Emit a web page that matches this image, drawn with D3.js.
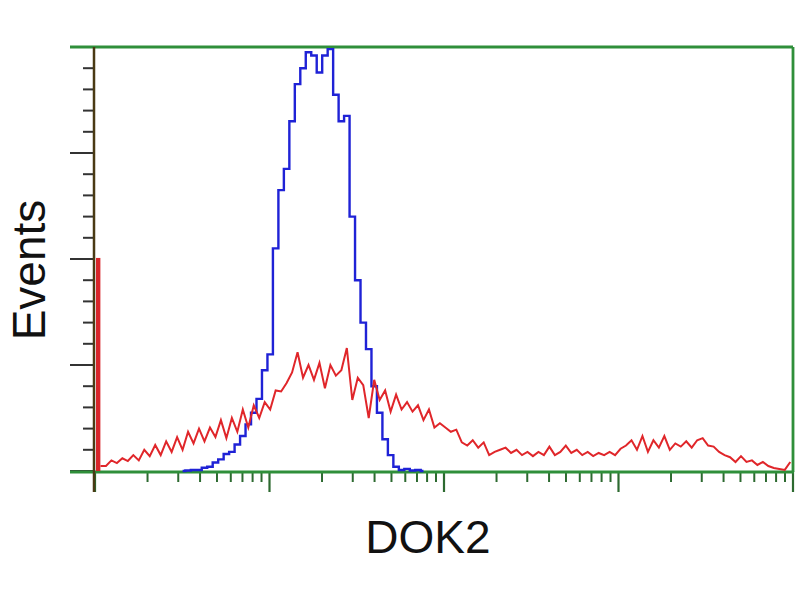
<!DOCTYPE html>
<html>
<head>
<meta charset="utf-8">
<script src="https://cdn.jsdelivr.net/npm/d3@7"></script>
<style>
  body { margin: 0; background: #fff; }
  svg { display: block; }
</style>
</head>
<body>
<div id="chart"></div>
<script>
// histogram data: counts every 2 channels (256 channels over 4 log decades)
const channelStep = 2;
const redFirstBin = 201;
const redCounts = [
  201, 4.7, 4.7, 10, 7.5, 12, 9.4, 15, 10, 20, 14, 24.5, 15, 28, 18, 32,
  20, 37, 26, 40, 28, 41, 32, 48, 31, 50, 37, 58, 41, 62, 50, 65,
  58, 76, 75, 83, 93, 112, 88, 100, 86, 102, 78, 100, 90, 95, 116, 67,
  88, 81, 50, 86, 67, 76, 56, 72, 58, 65, 56, 62, 48, 58, 41, 45,
  41, 37, 39, 27, 24, 29, 22, 27, 15, 18, 20, 22, 17, 20, 15, 18,
  14, 18, 15, 23, 15, 18, 24, 17, 20, 15, 18, 14, 17, 15, 18, 15,
  21, 24, 29, 20, 33, 18, 29, 22, 33, 20, 26, 23, 28, 22, 29, 31,
  24, 23, 18, 15, 13, 8.5, 14, 8.5, 10, 5.7, 8.5, 4.7, 2.8, 1.9, 1, 8.5
];
const blueStart = 16; // index of first blue value (channel = index * 2)
const blueCounts = [
  0, 0.5, 1, 1, 3, 4, 8, 11, 16, 18, 25, 33, 44, 55, 68, 95,
  110, 210, 265, 285, 330, 365, 380, 395, 392, 376, 392, 398, 355, 330, 335, 240,
  180, 140, 115, 80, 55, 30, 15, 4, 1, 2, 0.5, 1, 0
];
const yMax = 400;
const yMajor = [0, 100, 200, 300, 400];
const yMinor = d3.range(0, 401, 20);
const decades = [1, 10, 100, 1000, 10000];

const width = 800, height = 600;
const mLeft = 95, mRight = 793, mTop = 47, mBottom = 471;
const green = "#2f8f3a";

const svg = d3.select("#chart").append("svg")
  .attr("width", width)
  .attr("height", height);

const xCh = d3.scaleLinear().domain([0, 255]).range([mLeft, mRight]);
const xLog = d3.scaleLog().domain([1, 10000]).range([mLeft, mRight]);
const y = d3.scaleLinear().domain([0, yMax]).range([mBottom, mTop]);

// minor log ticks
const logMinor = [];
decades.slice(0, -1).forEach(d => {
  for (let k = 2; k <= 9; k++) logMinor.push(d * k);
});

// x ticks
svg.append("g").selectAll("line.xminor")
  .data(logMinor).enter().append("line")
  .attr("x1", d => xLog(d)).attr("x2", d => xLog(d))
  .attr("y1", mBottom).attr("y2", mBottom + 11)
  .attr("stroke", "#2d6a30").attr("stroke-width", 2);
svg.append("g").selectAll("line.xmajor")
  .data(decades).enter().append("line")
  .attr("x1", d => xLog(d)).attr("x2", d => xLog(d))
  .attr("y1", mBottom).attr("y2", mBottom + 21)
  .attr("stroke", "#2d6a30").attr("stroke-width", 2.2);

// y ticks
svg.append("g").selectAll("line.yminor")
  .data(yMinor).enter().append("line")
  .attr("x1", mLeft - 12).attr("x2", mLeft)
  .attr("y1", d => y(d)).attr("y2", d => y(d))
  .attr("stroke", "#333").attr("stroke-width", 2);
svg.append("g").selectAll("line.ymajor")
  .data(yMajor).enter().append("line")
  .attr("x1", mLeft - 25).attr("x2", mLeft)
  .attr("y1", d => y(d)).attr("y2", d => y(d))
  .attr("stroke", "#333").attr("stroke-width", 2);

// frame
svg.append("line").attr("x1", 70).attr("x2", mRight).attr("y1", mTop).attr("y2", mTop)
  .attr("stroke", green).attr("stroke-width", 2.8);
svg.append("line").attr("x1", 70).attr("x2", mRight + 1).attr("y1", mBottom + 1).attr("y2", mBottom + 1)
  .attr("stroke", green).attr("stroke-width", 2.8);
svg.append("line").attr("x1", mRight).attr("x2", mRight).attr("y1", mTop).attr("y2", mBottom + 1)
  .attr("stroke", green).attr("stroke-width", 2.8);

// blue histogram
const blueData = blueCounts.map((c, i) => [(blueStart + i) * channelStep, c]);
const line = d3.line().x(d => xCh(d[0])).y(d => y(d[1]));
svg.append("path")
  .datum(blueData)
  .attr("d", line.curve(d3.curveStep))
  .attr("fill", "none")
  .attr("stroke", "#1f22d6")
  .attr("stroke-width", 2.4);

// red histogram (first bin drawn as a bar)
svg.append("rect")
  .attr("x", xCh(0) + 1)
  .attr("y", y(redFirstBin))
  .attr("width", xCh(1.6) - xCh(0))
  .attr("height", y(0) - y(redFirstBin))
  .attr("fill", "#d8262a");
const redData = redCounts.slice(1).map((c, i) => [(i + 1) * channelStep, c]);
svg.append("path")
  .datum(redData)
  .attr("d", d3.line().x(d => xCh(d[0])).y(d => y(d[1])))
  .attr("fill", "none")
  .attr("stroke", "#e0262a")
  .attr("stroke-width", 2);

// left axis line
svg.append("line").attr("x1", mLeft - 1).attr("x2", mLeft - 1).attr("y1", mTop).attr("y2", mBottom + 21)
  .attr("stroke", "#4a3a14").attr("stroke-width", 2.5);

// labels
svg.append("text")
  .attr("x", 428).attr("y", 553)
  .attr("text-anchor", "middle")
  .attr("font-family", "Liberation Sans, Arial, sans-serif")
  .attr("font-size", 46)
  .attr("fill", "#111")
  .text("DOK2");
svg.append("text")
  .attr("transform", "translate(45,270) rotate(-90)")
  .attr("text-anchor", "middle")
  .attr("font-family", "Liberation Sans, Arial, sans-serif")
  .attr("font-size", 46)
  .attr("fill", "#111")
  .text("Events");
</script>
</body>
</html>
